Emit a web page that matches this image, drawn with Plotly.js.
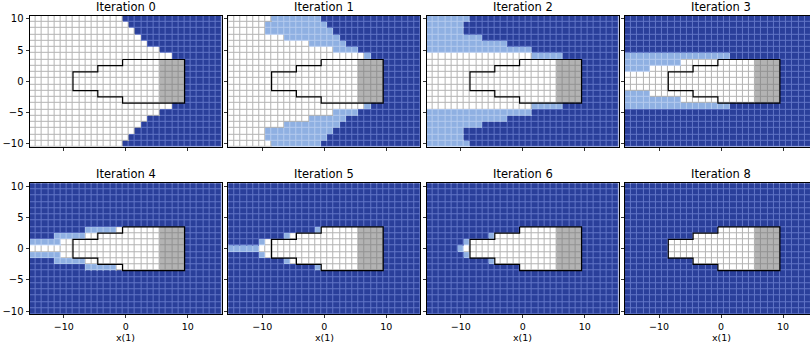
<!DOCTYPE html>
<html><head><meta charset="utf-8">
<script src="https://cdn.plot.ly/plotly-3.0.1.min.js"></script>
<style>html,body{margin:0;padding:0;background:#fff}#chart{width:810px;height:344px}</style>
</head><body><div id="chart"></div>
<script>
// ---- data ----
const xCells = [-15,-14,-13,-12,-11,-10,-9,-8,-7,-6,-5,-4,-3,-2,-1,0,1,2,3,4,5,6,7,8,9,10,11,12,13,14,15];
const yCells = [10,9,8,7,6,5,4,3,2,1,0,-1,-2,-3,-4,-5,-6,-7,-8,-9,-10];
const iterationLabels = [0,1,2,3,4,5,6,8];
// '.' in set, 'o' removed this iteration, '#' removed earlier, 'g' target
const iter0Rows = [
"..... ..... ..... ##### ##### ##### #",
"..... ..... ..... .#### ##### ##### #",
"..... ..... ..... ..### ##### ##### #",
"..... ..... ..... ...## ##### ##### #",
"..... ..... ..... ....# ##### ##### #",
"..... ..... ..... ..... .#### ##### #",
"..... ..... ..... ..... ...## ##### #",
"..... ..... ..... ..... .gggg ##### #",
"..... ..... ..... ..... .gggg ##### #",
"..... ..... ..... ..... .gggg ##### #",
"..... ..... ..... ..... .gggg ##### #",
"..... ..... ..... ..... .gggg ##### #",
"..... ..... ..... ..... .gggg ##### #",
"..... ..... ..... ..... .gggg ##### #",
"..... ..... ..... ..... ...## ##### #",
"..... ..... ..... ..... .#### ##### #",
"..... ..... ..... ....# ##### ##### #",
"..... ..... ..... ...## ##### ##### #",
"..... ..... ..... ..### ##### ##### #",
"..... ..... ..... .#### ##### ##### #",
"..... ..... ..... ##### ##### ##### #"];
const iter1Rows = [
"..... ..ooo ooooo ##### ##### ##### #",
"..... .oooo ooooo o#### ##### ##### #",
"..... .oooo ooooo oo### ##### ##### #",
"..... ....o ooooo ooo## ##### ##### #",
"..... ..... ...oo oooo# ##### ##### #",
"..... ..... ..... ..ooo o#### ##### #",
"..... ..... ..... ..... ..o## ##### #",
"..... ..... ..... ..... .gggg ##### #",
"..... ..... ..... ..... .gggg ##### #",
"..... ..... ..... ..... .gggg ##### #",
"..... ..... ..... ..... .gggg ##### #",
"..... ..... ..... ..... .gggg ##### #",
"..... ..... ..... ..... .gggg ##### #",
"..... ..... ..... ..... .gggg ##### #",
"..... ..... ..... ..... ..o## ##### #",
"..... ..... ..... ..ooo o#### ##### #",
"..... ..... ...oo oooo# ##### ##### #",
"..... ....o ooooo ooo## ##### ##### #",
"..... .oooo ooooo oo### ##### ##### #",
"..... .oooo ooooo o#### ##### ##### #",
"..... ..ooo ooooo ##### ##### ##### #"];
const iter2Rows = [
"ooooo oo### ##### ##### ##### ##### #",
"ooooo o#### ##### ##### ##### ##### #",
"ooooo o#### ##### ##### ##### ##### #",
"ooooo oooo# ##### ##### ##### ##### #",
"ooooo ooooo ooo## ##### ##### ##### #",
"ooooo ooooo ooooo oo### ##### ##### #",
"..... ..... ..... ..ooo oo### ##### #",
"..... ..... ..... ..... .gggg ##### #",
"..... ..... ..... ..... .gggg ##### #",
"..... ..... ..... ..... .gggg ##### #",
"..... ..... ..... ..... .gggg ##### #",
"..... ..... ..... ..... .gggg ##### #",
"..... ..... ..... ..... .gggg ##### #",
"..... ..... ..... ..... .gggg ##### #",
"..... ..... ..... ..ooo oo### ##### #",
"ooooo ooooo ooooo oo### ##### ##### #",
"ooooo ooooo ooo## ##### ##### ##### #",
"ooooo oooo# ##### ##### ##### ##### #",
"ooooo o#### ##### ##### ##### ##### #",
"ooooo o#### ##### ##### ##### ##### #",
"ooooo oo### ##### ##### ##### ##### #"];
const iter3Rows = [
"##### ##### ##### ##### ##### ##### #",
"##### ##### ##### ##### ##### ##### #",
"##### ##### ##### ##### ##### ##### #",
"##### ##### ##### ##### ##### ##### #",
"##### ##### ##### ##### ##### ##### #",
"##### ##### ##### ##### ##### ##### #",
"ooooo ooooo ooooo oo### ##### ##### #",
"ooooo oooo. ..... ..... .gggg ##### #",
"oooo. ..... ..... ..... .gggg ##### #",
"..... ..... ..... ..... .gggg ##### #",
"..... ..... ..... ..... .gggg ##### #",
"..... ..... ..... ..... .gggg ##### #",
"oooo. ..... ..... ..... .gggg ##### #",
"ooooo oooo. ..... ..... .gggg ##### #",
"ooooo ooooo ooooo oo### ##### ##### #",
"##### ##### ##### ##### ##### ##### #",
"##### ##### ##### ##### ##### ##### #",
"##### ##### ##### ##### ##### ##### #",
"##### ##### ##### ##### ##### ##### #",
"##### ##### ##### ##### ##### ##### #",
"##### ##### ##### ##### ##### ##### #"];
const iter4Rows = [
"##### ##### ##### ##### ##### ##### #",
"##### ##### ##### ##### ##### ##### #",
"##### ##### ##### ##### ##### ##### #",
"##### ##### ##### ##### ##### ##### #",
"##### ##### ##### ##### ##### ##### #",
"##### ##### ##### ##### ##### ##### #",
"##### ##### ##### ##### ##### ##### #",
"##### ####o oooo. ..... .gggg ##### #",
"####o oooo. ..... ..... .gggg ##### #",
"ooooo ..... ..... ..... .gggg ##### #",
"..... ..... ..... ..... .gggg ##### #",
"ooooo ..... ..... ..... .gggg ##### #",
"####o oooo. ..... ..... .gggg ##### #",
"##### ####o oooo. ..... .gggg ##### #",
"##### ##### ##### ##### ##### ##### #",
"##### ##### ##### ##### ##### ##### #",
"##### ##### ##### ##### ##### ##### #",
"##### ##### ##### ##### ##### ##### #",
"##### ##### ##### ##### ##### ##### #",
"##### ##### ##### ##### ##### ##### #",
"##### ##### ##### ##### ##### ##### #"];
const iter5Rows = [
"##### ##### ##### ##### ##### ##### #",
"##### ##### ##### ##### ##### ##### #",
"##### ##### ##### ##### ##### ##### #",
"##### ##### ##### ##### ##### ##### #",
"##### ##### ##### ##### ##### ##### #",
"##### ##### ##### ##### ##### ##### #",
"##### ##### ##### ##### ##### ##### #",
"##### ##### ####o ..... .gggg ##### #",
"##### ####o ..... ..... .gggg ##### #",
"##### o.... ..... ..... .gggg ##### #",
"ooooo ..... ..... ..... .gggg ##### #",
"##### o.... ..... ..... .gggg ##### #",
"##### ####o ..... ..... .gggg ##### #",
"##### ##### ####o ..... .gggg ##### #",
"##### ##### ##### ##### ##### ##### #",
"##### ##### ##### ##### ##### ##### #",
"##### ##### ##### ##### ##### ##### #",
"##### ##### ##### ##### ##### ##### #",
"##### ##### ##### ##### ##### ##### #",
"##### ##### ##### ##### ##### ##### #",
"##### ##### ##### ##### ##### ##### #"];
const iter6Rows = [
"##### ##### ##### ##### ##### ##### #",
"##### ##### ##### ##### ##### ##### #",
"##### ##### ##### ##### ##### ##### #",
"##### ##### ##### ##### ##### ##### #",
"##### ##### ##### ##### ##### ##### #",
"##### ##### ##### ##### ##### ##### #",
"##### ##### ##### ##### ##### ##### #",
"##### ##### ##### ..... .gggg ##### #",
"##### ##### o.... ..... .gggg ##### #",
"##### #o... ..... ..... .gggg ##### #",
"##### o.... ..... ..... .gggg ##### #",
"##### #o... ..... ..... .gggg ##### #",
"##### ##### o.... ..... .gggg ##### #",
"##### ##### ##### ..... .gggg ##### #",
"##### ##### ##### ##### ##### ##### #",
"##### ##### ##### ##### ##### ##### #",
"##### ##### ##### ##### ##### ##### #",
"##### ##### ##### ##### ##### ##### #",
"##### ##### ##### ##### ##### ##### #",
"##### ##### ##### ##### ##### ##### #",
"##### ##### ##### ##### ##### ##### #"];
const iter8Rows = [
"##### ##### ##### ##### ##### ##### #",
"##### ##### ##### ##### ##### ##### #",
"##### ##### ##### ##### ##### ##### #",
"##### ##### ##### ##### ##### ##### #",
"##### ##### ##### ##### ##### ##### #",
"##### ##### ##### ##### ##### ##### #",
"##### ##### ##### ##### ##### ##### #",
"##### ##### ##### ..... .gggg ##### #",
"##### ##### #.... ..... .gggg ##### #",
"##### ##... ..... ..... .gggg ##### #",
"##### ##... ..... ..... .gggg ##### #",
"##### ##... ..... ..... .gggg ##### #",
"##### ##### #.... ..... .gggg ##### #",
"##### ##### ##### ..... .gggg ##### #",
"##### ##### ##### ##### ##### ##### #",
"##### ##### ##### ##### ##### ##### #",
"##### ##### ##### ##### ##### ##### #",
"##### ##### ##### ##### ##### ##### #",
"##### ##### ##### ##### ##### ##### #",
"##### ##### ##### ##### ##### ##### #",
"##### ##### ##### ##### ##### ##### #"];
// constraint-set outline (cell-edge vertices)
const outlineX = [-0.5, 9.5, 9.5, -0.5, -0.5, -4.5, -4.5, -8.5, -8.5, -4.5, -4.5, -0.5, -0.5];
const outlineY = [3.5, 3.5, -3.5, -3.5, -2.5, -2.5, -1.5, -1.5, 1.5, 1.5, 2.5, 2.5, 3.5];
const xTicks = [-10, 0, 10];
const yTicks = [-10, -5, 0, 5, 10];

// ---- styling ----
const grids = [iter0Rows, iter1Rows, iter2Rows, iter3Rows, iter4Rows, iter5Rows, iter6Rows, iter8Rows];
const stateCode = {'.':0, 'o':1, '#':2, 'g':3};
const fillColors = ['#ffffff', '#8fb0e2', '#2a3f9a', '#b3b3b3'];
const edgeColors = ['#b4b4b4', '#b4caee', '#6175c6', '#939393'];
function scale(cols){ const s=[]; cols.forEach((c,i)=>{s.push([i/4,c]); s.push([(i+1)/4,c]);}); return s; }
const W = 810, H = 344;
const colLeft = [29.6, 228.2, 426.6, 624.9];
const rowTop = [15.8, 183.2];
const cw = 6.2, ch = 6.24;
const FONT = 'DejaVu Sans';

const traces = [];
const layout = {width: W, height: H, margin: {l:0, r:0, t:0, b:0}, showlegend: false,
  paper_bgcolor: '#fff', plot_bgcolor: 'rgba(0,0,0,0)', annotations: [], font: {family: FONT, color: '#000'}};

grids.forEach((rows, k) => {
  const col = k % 4, row = Math.floor(k / 4);
  const suf = k === 0 ? '' : String(k + 1);
  const z = rows.map(s => {
    const t = s.replace(/ /g, '');
    if (t.length !== xCells.length) throw new Error('bad row length ' + k + ': ' + s);
    return t.split('').map(c => stateCode[c]);
  });
  const common = {type: 'heatmap', x: xCells, y: yCells, z: z, zmin: -0.5, zmax: 3.5, showscale: false,
    hoverinfo: 'skip', xaxis: 'x' + suf, yaxis: 'y' + suf};
  traces.push(Object.assign({}, common, {colorscale: scale(edgeColors)}));
  traces.push(Object.assign({}, common, {colorscale: scale(fillColors), xgap: 1, ygap: 1}));
  traces.push({type: 'scatter', mode: 'lines', x: outlineX, y: outlineY, line: {color: '#000', width: 1.2},
    hoverinfo: 'skip', xaxis: 'x' + suf, yaxis: 'y' + suf});

  const left = colLeft[col];
  const right = Math.min(W, left + 31 * cw);
  const top = rowTop[row], bottom = top + 21 * ch;
  const ax = {showgrid: false, zeroline: false, showline: true, linecolor: '#000', linewidth: 1, mirror: true,
    ticks: 'outside', ticklen: 3, tickwidth: 0.8, tickcolor: '#000', fixedrange: true,
    tickfont: {family: FONT, size: 10, color: '#000'}};
  layout['xaxis' + suf] = Object.assign({}, ax, {domain: [left / W, right / W],
    range: [-15.5, -15.5 + (right - left) / cw], anchor: 'y' + suf,
    tickvals: xTicks, showticklabels: row === 1, tickfont: {family: FONT, size: 9.5, color: '#000'}});
  layout['yaxis' + suf] = Object.assign({}, ax, {domain: [1 - bottom / H, 1 - top / H],
    range: [-10.5, 10.5], anchor: 'x' + suf, tickvals: yTicks, showticklabels: col === 0,
    mirror: col === 3 ? false : true});
  const cx = (left + 15.5 * cw) / W;
  layout.annotations.push({xref: 'paper', yref: 'paper', x: cx, y: 1 - (top - 9) / H, xanchor: 'center',
    yanchor: 'middle', showarrow: false, text: 'Iteration ' + iterationLabels[k],
    font: {family: FONT, size: 11.5, color: '#000'}});
  if (row === 1) {
    layout.annotations.push({xref: 'paper', yref: 'paper', x: cx, y: 0, xanchor: 'center',
      yanchor: 'bottom', yshift: -1, showarrow: false, text: 'x(1)', font: {family: FONT, size: 9.5, color: '#000'}});
  }
});

Plotly.newPlot('chart', traces, layout, {staticPlot: true, displayModeBar: false});
</script>
</body></html>
